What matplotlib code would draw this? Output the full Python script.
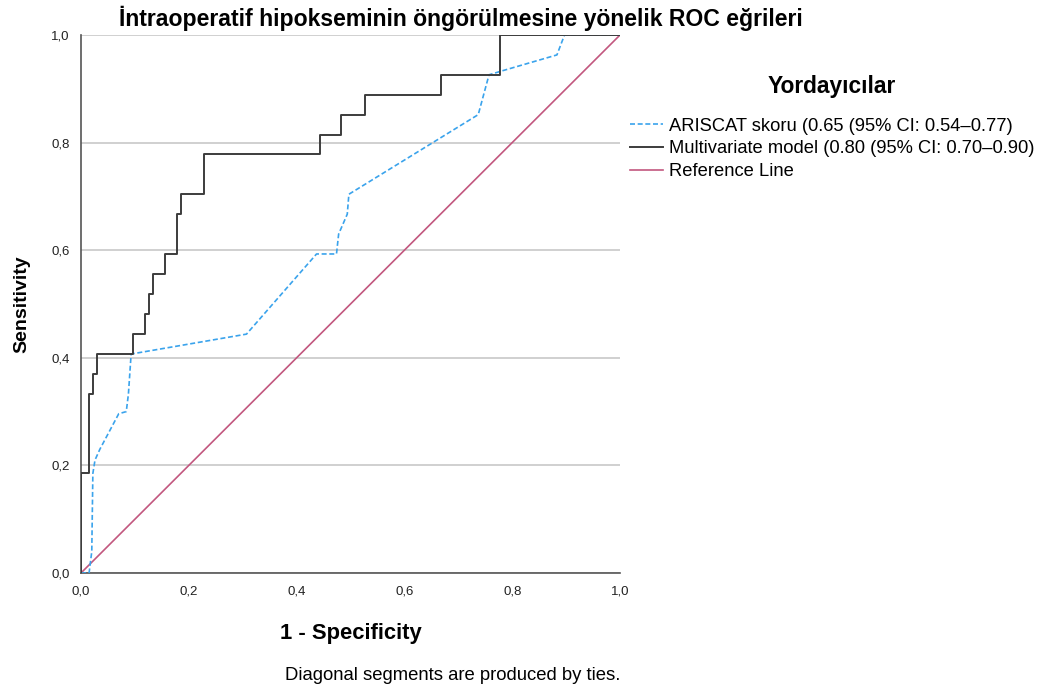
import matplotlib.pyplot as plt
from matplotlib.ticker import FuncFormatter

# ROC curve points (1 - specificity, sensitivity)
model_fpr = [0.0, 0.0, 0.015, 0.015, 0.022, 0.022, 0.030, 0.030, 0.096, 0.096,
             0.118, 0.118, 0.126, 0.126, 0.133, 0.133, 0.156, 0.156, 0.178, 0.178,
             0.185, 0.185, 0.228, 0.228, 0.444, 0.444, 0.482, 0.482, 0.526, 0.526,
             0.667, 0.667, 0.778, 0.778, 1.0]
model_tpr = [0.0, 0.185, 0.185, 0.333, 0.333, 0.370, 0.370, 0.407, 0.407, 0.444,
             0.444, 0.481, 0.481, 0.519, 0.519, 0.556, 0.556, 0.593, 0.593, 0.667,
             0.667, 0.704, 0.704, 0.778, 0.778, 0.815, 0.815, 0.852, 0.852, 0.889,
             0.889, 0.926, 0.926, 1.0, 1.0]

ariscat_fpr = [0.0, 0.015, 0.020, 0.022, 0.026, 0.035, 0.070, 0.084, 0.088, 0.093,
               0.307, 0.437, 0.474, 0.478, 0.494, 0.497, 0.737, 0.757, 0.780,
               0.883, 0.897, 1.0]
ariscat_tpr = [0.0, 0.0, 0.040, 0.185, 0.210, 0.230, 0.296, 0.300, 0.333, 0.407,
               0.444, 0.593, 0.593, 0.630, 0.667, 0.704, 0.852, 0.926, 0.933,
               0.963, 1.0, 1.0]

ref_x = [0.0, 1.0]
ref_y = [0.0, 1.0]

labels = ['ARISCAT skoru (0.65 (95% CI: 0.54\u20130.77)',
          'Multivariate model (0.80 (95% CI: 0.70\u20130.90)',
          'Reference Line']

plt.rcParams['font.family'] = ['Liberation Sans', 'DejaVu Sans']

fig = plt.figure(figsize=(10.39, 6.91), dpi=100)
ax = fig.add_axes([81 / 1039, 1 - 573 / 691, 539 / 1039, 538 / 691])

ax.plot(ariscat_fpr, ariscat_tpr, color='#3aa3ec', linestyle=(0, (3, 1.6)),
        linewidth=1.2, label=labels[0], zorder=3)
ax.plot(model_fpr, model_tpr, color='#3c3c3c', linewidth=1.4,
        label=labels[1], zorder=4)
ax.plot(ref_x, ref_y, color='#c2577f', linewidth=1.2, label=labels[2], zorder=2)

ax.set_xlim(0, 1)
ax.set_ylim(0, 1)
ax.set_xticks([0, 0.2, 0.4, 0.6, 0.8, 1.0])
ax.set_yticks([0, 0.2, 0.4, 0.6, 0.8, 1.0])
comma = FuncFormatter(lambda v, p: f'{v:.1f}'.replace('.', ','))
ax.xaxis.set_major_formatter(comma)
ax.yaxis.set_major_formatter(comma)
ax.tick_params(length=0, labelsize=9.5, colors='#222222')
ax.tick_params(axis='x', pad=9)
ax.tick_params(axis='y', pad=8)
ax.yaxis.grid(True, color='#c8c8c8', linewidth=1.2)
ax.set_axisbelow(True)
for s in ['top', 'right']:
    ax.spines[s].set_visible(False)
for s in ['left', 'bottom']:
    ax.spines[s].set_color('#555555')
    ax.spines[s].set_linewidth(1.2)

ax.set_xlabel('1 - Specificity', fontsize=15.8, fontweight='bold', labelpad=18)
ax.set_ylabel('Sensitivity', fontsize=14, fontweight='bold', labelpad=15)

fig.text(461 / 1039, 1 - 18 / 691, 'İntraoperatif hipokseminin öngörülmesine yönelik ROC eğrileri',
         ha='center', va='center', fontsize=16.6, fontweight='bold')
fig.text(453 / 1039, 1 - 675 / 691, 'Diagonal segments are produced by ties.',
         ha='center', va='center', fontsize=13.3)

leg = ax.legend(loc='upper left', bbox_to_anchor=(621 / 1039, 1 - 66 / 691),
                bbox_transform=fig.transFigure, frameon=False, fontsize=13.2,
                title='Yordayıcılar', handlelength=1.8, handletextpad=0.3,
                labelspacing=0.32, borderpad=0)
leg.get_title().set_fontsize(16.4)
leg.get_title().set_fontweight('bold')
leg._legend_box.sep = 14

fig.savefig('out.png', dpi=100)
